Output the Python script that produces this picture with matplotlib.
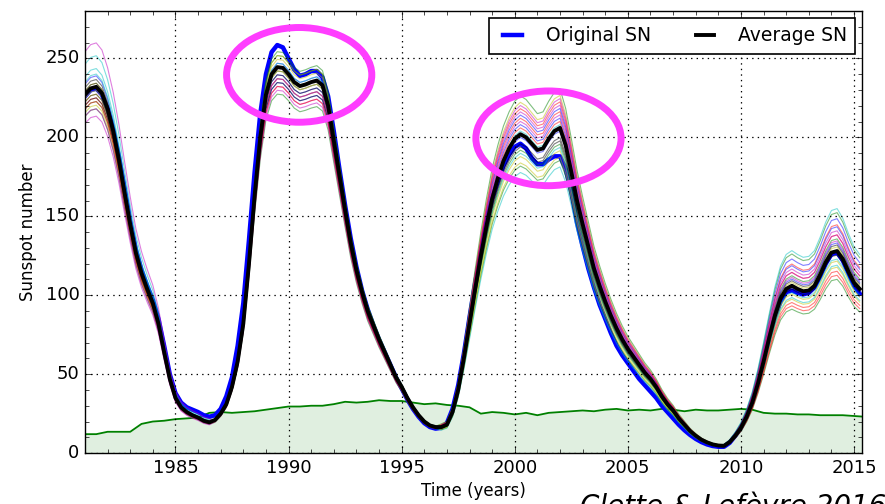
import numpy as np
import matplotlib
matplotlib.use("Agg")
import matplotlib.pyplot as plt
from matplotlib.patches import Ellipse
from matplotlib.ticker import FormatStrFormatter

# Sampling grid (years) for the smoothed sunspot series
YEARS = np.arange(1981.0, 2015.26, 0.25)

# Average SN over the ensemble (black)
AVERAGE_SN = [
    227, 231, 232, 228,  218, 204, 186, 165,  145, 127, 114, 104,
    95, 82, 64, 47,  35, 29, 26, 24,  22.5, 20.5, 19.5, 21,
    25, 31, 42, 58,  82, 120, 163, 200,  227, 240, 244.5, 244,
    240, 235, 232.5, 233.5,  235, 236, 233, 220,  198, 176, 154, 133,
    116, 102, 90, 81,  72, 64, 56, 48,  42, 35, 29, 24,
    20, 17.5, 16.5, 16.5,  18, 26, 40, 60,  82, 104, 125, 144,
    161, 174, 185, 193,  199, 202, 200, 196,  192, 193, 199, 204,
    206, 195, 178, 160,  145, 131, 117, 106,  96, 87, 79, 72,
    66, 61, 56, 51,  47, 42, 36, 31,  27, 22, 18, 14,
    11, 8.5, 6.8, 5.5,  4.8, 4.6, 7, 11,  16, 23, 32, 44,
    58, 73, 87, 98,  104, 106, 104, 102.5,  103, 106, 113, 121,
    127, 128, 123, 115,  108, 104,
]

# Original SN (blue)
ORIGINAL_SN = [
    226, 230, 231, 227,  218, 205, 188, 168,  147, 129, 116, 106,
    97, 85, 68, 50,  38, 32, 29, 27.5,  26, 24, 23, 24,
    28, 36, 48, 68,  95, 135, 178, 215,  240, 254, 258.5, 257,
    250, 243, 239, 240,  242, 242, 238, 226,  204, 180, 157, 136,
    118, 103, 91, 81,  72, 64, 56, 48,  41, 34, 28, 23,
    19, 16.5, 15.5, 16,  19, 28, 43, 63,  86, 108, 128, 146,
    161, 172, 182, 189,  194, 196, 193, 187,  183, 183, 186, 188,
    188, 180, 165, 146,  131, 117, 105, 94,  85, 76, 68, 62,
    57, 52, 47, 43,  39, 35, 30, 26,  22, 18, 14.5, 11.5,
    9, 7, 5.5, 4.5,  4, 4, 6.5, 11,  16, 23, 32, 44,
    58, 73, 86, 96,  102, 103, 101.5, 100.5,  101.5, 105, 112, 120,
    126, 127, 122, 114,  106, 101,
]

# Green curve (half-year samples)
GREEN_YEARS = np.arange(1981.0, 2015.51, 0.5)
GREEN_SN = [
    12, 12, 13.5, 13.5, 13.5, 18.5, 20, 20.5, 21.5, 22, 22.5, 25.5,
    26, 25.5, 26, 26.5, 27.5, 28.5, 29.5, 29.5, 30, 30, 31, 32.5,
    32, 32.5, 33.5, 33, 33, 32, 31, 31.5, 30.5, 30, 29, 25,
    26, 25.5, 24.5, 25.5, 24, 25.5, 26, 26.5, 27, 26.5, 27.5, 28,
    27, 27.5, 27, 28, 27.5, 26.5, 27.5, 27, 27, 27.5, 28, 27.5,
    25.5, 25, 25, 24.5, 24.5, 24, 24, 24, 23.5, 23,
]

# Ensemble members: colour and ratio to the average for cycles 21, 22, 23, 24
CYCLE_MINIMA = [1986.6, 1996.6, 2009.0]
MEMBER_COLORS = ['b', 'g', 'r', 'c', 'm', 'y', 'k', 'b', 'g', 'r', 'c',
                 'm', 'y', 'k', 'b', 'g', 'r', 'c', 'm', 'y', 'k', 'r']
MEMBER_RATIOS = [
    [1.00, 0.98, 1.03, 1.12], [0.96, 1.03, 1.12, 1.19],
    [0.98, 0.99, 1.05, 1.08], [1.085, 0.97, 0.94, 1.21],
    [1.12, 0.95, 1.07, 1.10], [0.95, 1.02, 1.10, 0.92],
    [1.02, 1.00, 1.00, 1.00], [0.99, 1.01, 1.06, 1.16],
    [0.94, 0.93, 0.90, 0.86], [0.97, 1.00, 1.02, 0.90],
    [1.05, 0.99, 0.88, 0.96], [0.92, 0.94, 1.09, 1.05],
    [1.01, 1.03, 0.93, 0.95], [0.97, 0.98, 0.97, 0.98],
    [1.03, 0.96, 0.99, 1.04], [0.98, 1.04, 0.95, 1.06],
    [1.00, 0.97, 1.08, 1.13], [1.035, 1.01, 1.01, 0.93],
    [0.94, 0.97, 1.04, 1.08], [0.99, 0.99, 0.91, 1.02],
    [1.01, 0.96, 0.96, 1.03], [0.96, 0.95, 1.00, 0.88],
]

MAGENTA = '#ff3dff'

plt.style.use('classic')
plt.rcParams['font.family'] = ['DejaVu Sans']

fig = plt.figure(figsize=(8.85, 5.04), dpi=100, facecolor='white')
ax = fig.add_axes([0.096, 0.101, 0.878, 0.877])
ax.set_facecolor('white')

avg = np.array(AVERAGE_SN)
orig = np.array(ORIGINAL_SN)

# green band underneath
ax.fill_between(GREEN_YEARS, 0, GREEN_SN, color='g', alpha=0.12, lw=0)
ax.plot(GREEN_YEARS, GREEN_SN, color='g', lw=1.3)

ax.plot(YEARS, orig, color='b', lw=3.2, label='Original SN')

cycle_idx = np.searchsorted(CYCLE_MINIMA, YEARS)
for col, ratios in zip(MEMBER_COLORS, MEMBER_RATIOS):
    member = avg * np.array(ratios)[cycle_idx]
    ax.plot(YEARS, member, color=col, lw=0.8, alpha=0.5)

ax.plot(YEARS, avg, color='k', lw=2.8, label='Average SN')

# highlighted regions
for cx, cy in [(1990.47, 239.6), (2001.49, 199.4)]:
    ax.add_patch(Ellipse((cx, cy), 6.42, 60, fill=False, ec=MAGENTA,
                         lw=5, clip_on=False, zorder=5))

ax.set_xlim(1981.0, 2015.35)
ax.set_ylim(0, 280)
ax.set_xticks([1985, 1990, 1995, 2000, 2005, 2010, 2015])
ax.set_yticks([0, 50, 100, 150, 200, 250])
ax.set_xticks(np.arange(1982, 2016, 1), minor=True)
ax.set_yticks(np.arange(0, 281, 10), minor=True)
ax.xaxis.set_major_formatter(FormatStrFormatter('%d'))
ax.yaxis.set_major_formatter(FormatStrFormatter('%d'))
ax.tick_params(labelsize=13, direction='in', top=True, right=True)
ax.tick_params(which='major', length=5)
ax.tick_params(which='minor', length=3)
ax.grid(True, which='major', linestyle=':', color='k', lw=0.9)
ax.set_axisbelow(False)

ax.set_xlabel('Time (years)', fontsize=12, labelpad=4)
ax.set_ylabel('Sunspot number', fontsize=12, labelpad=6)

leg = ax.legend(loc='upper right', ncol=2, fontsize=13.5, frameon=True,
                fancybox=False, handlelength=1.6, handletextpad=0.95,
                columnspacing=2.1, borderpad=0.45, borderaxespad=0.35,
                numpoints=2)
leg.get_frame().set_edgecolor('k')
leg.get_frame().set_linewidth(1.2)

fig.text(0.655, -0.022, 'Clette & Lefèvre 2016', fontsize=20,
         style='italic', ha='left', va='baseline')

fig.savefig('out.png', dpi=100, facecolor='white')
